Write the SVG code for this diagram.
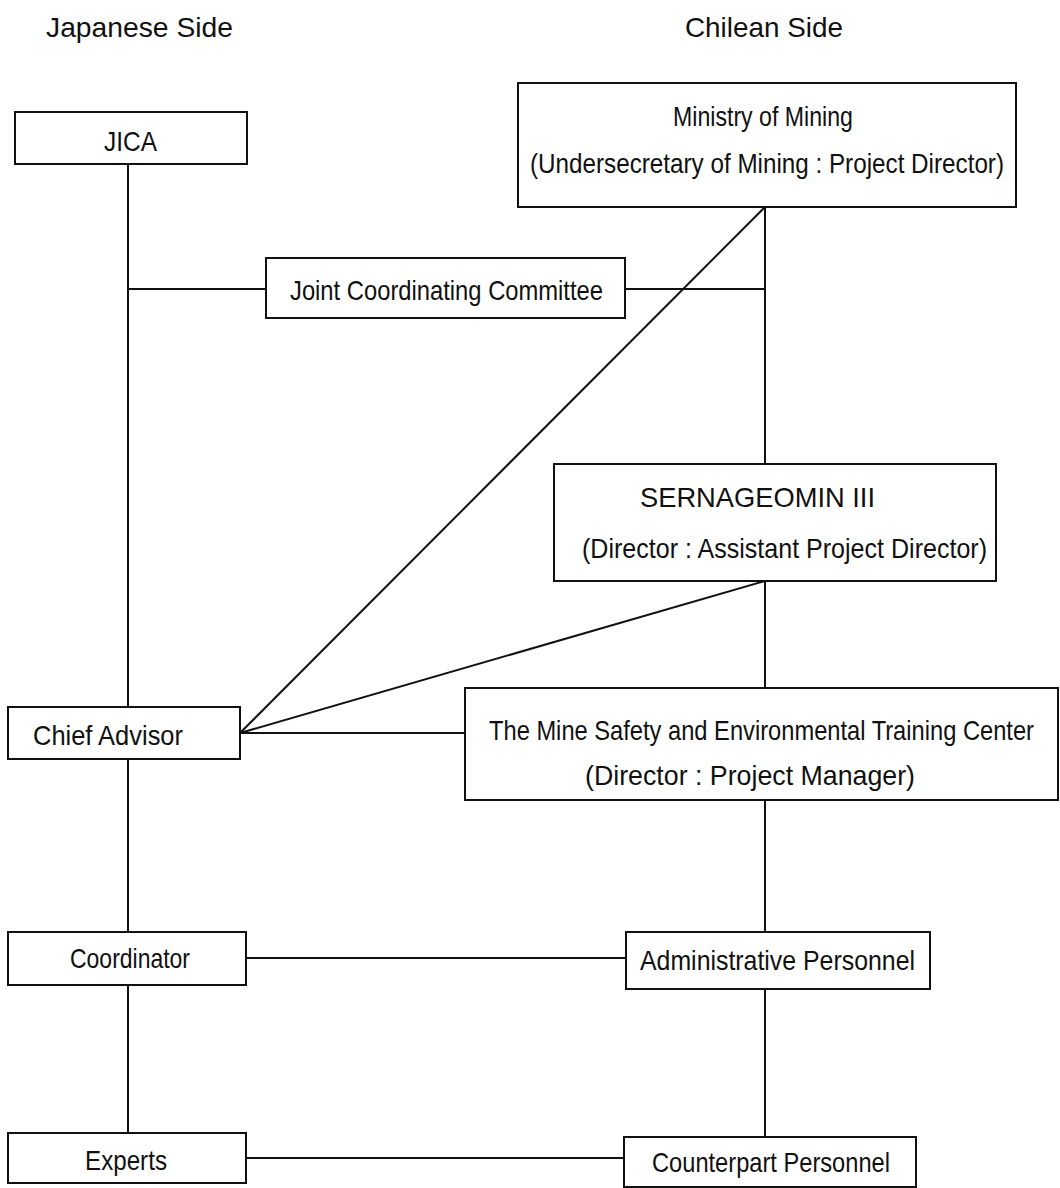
<svg xmlns="http://www.w3.org/2000/svg" width="1060" height="1188" viewBox="0 0 1060 1188">
<style>
.box{fill:#fff;stroke:#111;stroke-width:2}
.ln{stroke:#111;stroke-width:2;fill:none}
text{font-family:"Liberation Sans",Arial,sans-serif;fill:#111}
.h{font-size:28px}
.t{font-size:28px}
.s{font-size:24px}
</style>
<rect width="1060" height="1188" fill="#fff"/>
<g id="headers">
<text class="h" x="46" y="37" textLength="187" lengthAdjust="spacingAndGlyphs">Japanese Side</text>
<text class="h" x="685" y="37" textLength="158" lengthAdjust="spacingAndGlyphs">Chilean Side</text>
</g>
<g id="connectors">
<line class="ln" x1="128" y1="164" x2="128" y2="707"/>
<line class="ln" x1="128" y1="759" x2="128" y2="932"/>
<line class="ln" x1="128" y1="985" x2="128" y2="1133"/>
<line class="ln" x1="128" y1="289" x2="266" y2="289"/>
<line class="ln" x1="625" y1="289" x2="765" y2="289"/>
<line class="ln" x1="765" y1="207" x2="765" y2="464"/>
<line class="ln" x1="765" y1="581" x2="765" y2="688"/>
<line class="ln" x1="765" y1="800" x2="765" y2="932"/>
<line class="ln" x1="765" y1="989" x2="765" y2="1137"/>
<line class="ln" x1="240" y1="733" x2="765" y2="207"/>
<line class="ln" x1="240" y1="733" x2="765" y2="581"/>
<line class="ln" x1="240" y1="733" x2="465" y2="733"/>
<line class="ln" x1="246" y1="958" x2="626" y2="958"/>
<line class="ln" x1="246" y1="1158" x2="624" y2="1158"/>
</g>
<g id="jica">
<rect class="box" x="15" y="112" width="232" height="52"/>
<text class="t" x="104" y="151" textLength="53" lengthAdjust="spacingAndGlyphs">JICA</text>
</g>
<g id="ministry">
<rect class="box" x="518" y="83" width="498" height="124"/>
<text class="t" x="673" y="126" textLength="180" lengthAdjust="spacingAndGlyphs">Ministry of Mining</text>
<text class="s" transform="translate(530,173) scale(1,1.15)" x="0" y="0" textLength="474" lengthAdjust="spacingAndGlyphs">(Undersecretary of Mining : Project Director)</text>
</g>
<g id="jcc">
<rect class="box" x="266" y="258" width="359" height="60"/>
<text class="t" x="290" y="300" textLength="313" lengthAdjust="spacingAndGlyphs">Joint Coordinating Committee</text>
</g>
<g id="sernageomin">
<rect class="box" x="554" y="464" width="442" height="117"/>
<text class="t" x="640" y="507" textLength="235" lengthAdjust="spacingAndGlyphs">SERNAGEOMIN  III</text>
<text class="t" x="582" y="558" textLength="405" lengthAdjust="spacingAndGlyphs">(Director : Assistant Project Director)</text>
</g>
<g id="chief-advisor">
<rect class="box" x="8" y="707" width="232" height="52"/>
<text class="t" x="33" y="745" textLength="150" lengthAdjust="spacingAndGlyphs">Chief Advisor</text>
</g>
<g id="training-center">
<rect class="box" x="465" y="688" width="593" height="112"/>
<text class="s" transform="translate(489,740) scale(1,1.15)" x="0" y="0" textLength="545" lengthAdjust="spacingAndGlyphs">The Mine Safety and Environmental Training Center</text>
<text class="t" x="585" y="785" textLength="330" lengthAdjust="spacingAndGlyphs">(Director : Project Manager)</text>
</g>
<g id="coordinator">
<rect class="box" x="8" y="932" width="238" height="53"/>
<text class="t" x="70" y="968" textLength="120" lengthAdjust="spacingAndGlyphs">Coordinator</text>
</g>
<g id="admin">
<rect class="box" x="626" y="932" width="304" height="57"/>
<text class="t" x="640" y="970" textLength="275" lengthAdjust="spacingAndGlyphs">Administrative Personnel</text>
</g>
<g id="experts">
<rect class="box" x="8" y="1133" width="238" height="50"/>
<text class="t" x="85" y="1170" textLength="82" lengthAdjust="spacingAndGlyphs">Experts</text>
</g>
<g id="counterpart">
<rect class="box" x="624" y="1137" width="292" height="50"/>
<text class="t" x="652" y="1172" textLength="238" lengthAdjust="spacingAndGlyphs">Counterpart Personnel</text>
</g>
</svg>
